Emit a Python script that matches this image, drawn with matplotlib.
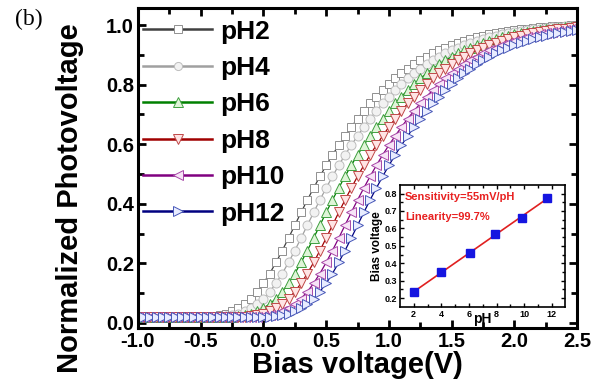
import numpy as np
import matplotlib
matplotlib.use("Agg")
import matplotlib.pyplot as plt

plt.rcParams['font.family'] = ['Liberation Sans', 'DejaVu Sans']
plt.rcParams['font.weight'] = 'bold'
plt.rcParams['axes.unicode_minus'] = False

# bias voltage grid (V), one point every 0.05 V
bias = np.round(np.linspace(-1.0, 2.5, 71), 2)

ph2 = [0.020, 0.020, 0.020, 0.020, 0.020, 0.020, 0.020, 0.020, 0.020, 0.020, 0.020, 0.020,
       0.022, 0.026, 0.031, 0.039, 0.050, 0.064, 0.082, 0.105, 0.133, 0.166, 0.203, 0.243,
       0.285, 0.328, 0.371, 0.413, 0.453, 0.492, 0.529, 0.564, 0.597, 0.628, 0.658, 0.686,
       0.712, 0.737, 0.760, 0.782, 0.802, 0.821, 0.838, 0.854, 0.869, 0.882, 0.894, 0.905,
       0.915, 0.924, 0.932, 0.940, 0.947, 0.953, 0.959, 0.964, 0.969, 0.973, 0.977, 0.980,
       0.983, 0.986, 0.988, 0.990, 0.992, 0.994, 0.996, 0.997, 0.998, 0.999, 1.000]
ph4 = [0.020, 0.020, 0.020, 0.020, 0.020, 0.020, 0.020, 0.020, 0.020, 0.020, 0.020, 0.020,
       0.020, 0.020, 0.022, 0.026, 0.031, 0.039, 0.050, 0.064, 0.082, 0.105, 0.133, 0.166,
       0.203, 0.243, 0.285, 0.328, 0.371, 0.413, 0.453, 0.492, 0.529, 0.564, 0.597, 0.628,
       0.658, 0.686, 0.712, 0.737, 0.760, 0.782, 0.802, 0.821, 0.838, 0.854, 0.869, 0.882,
       0.894, 0.905, 0.915, 0.924, 0.932, 0.940, 0.947, 0.953, 0.959, 0.964, 0.969, 0.973,
       0.977, 0.980, 0.983, 0.986, 0.988, 0.990, 0.992, 0.994, 0.996, 0.997, 0.998]
ph6 = [0.020, 0.020, 0.020, 0.020, 0.020, 0.020, 0.020, 0.020, 0.020, 0.020, 0.020, 0.020,
       0.020, 0.020, 0.020, 0.020, 0.022, 0.026, 0.031, 0.039, 0.050, 0.064, 0.082, 0.105,
       0.133, 0.166, 0.203, 0.243, 0.285, 0.328, 0.371, 0.413, 0.453, 0.492, 0.529, 0.564,
       0.597, 0.628, 0.658, 0.686, 0.712, 0.737, 0.760, 0.782, 0.802, 0.821, 0.838, 0.854,
       0.869, 0.882, 0.894, 0.905, 0.915, 0.924, 0.932, 0.940, 0.947, 0.953, 0.959, 0.964,
       0.969, 0.973, 0.977, 0.980, 0.983, 0.986, 0.988, 0.990, 0.992, 0.994, 0.996]
ph8 = [0.020, 0.020, 0.020, 0.020, 0.020, 0.020, 0.020, 0.020, 0.020, 0.020, 0.020, 0.020,
       0.020, 0.020, 0.020, 0.020, 0.020, 0.020, 0.022, 0.026, 0.031, 0.039, 0.050, 0.064,
       0.082, 0.105, 0.133, 0.166, 0.203, 0.243, 0.285, 0.328, 0.371, 0.413, 0.453, 0.492,
       0.529, 0.564, 0.597, 0.628, 0.658, 0.686, 0.712, 0.737, 0.760, 0.782, 0.802, 0.821,
       0.838, 0.854, 0.869, 0.882, 0.894, 0.905, 0.915, 0.924, 0.932, 0.940, 0.947, 0.953,
       0.959, 0.964, 0.969, 0.973, 0.977, 0.980, 0.983, 0.986, 0.988, 0.990, 0.992]
ph10 = [0.020, 0.020, 0.020, 0.020, 0.020, 0.020, 0.020, 0.020, 0.020, 0.020, 0.020, 0.020,
        0.020, 0.020, 0.020, 0.020, 0.020, 0.020, 0.020, 0.020, 0.022, 0.026, 0.031, 0.039,
        0.050, 0.064, 0.082, 0.105, 0.133, 0.166, 0.203, 0.243, 0.285, 0.328, 0.371, 0.413,
        0.453, 0.492, 0.529, 0.564, 0.597, 0.628, 0.658, 0.686, 0.712, 0.737, 0.760, 0.782,
        0.802, 0.821, 0.838, 0.854, 0.869, 0.882, 0.894, 0.905, 0.915, 0.924, 0.932, 0.940,
        0.947, 0.953, 0.959, 0.964, 0.969, 0.973, 0.977, 0.980, 0.983, 0.986, 0.988]
ph12 = [0.020, 0.020, 0.020, 0.020, 0.020, 0.020, 0.020, 0.020, 0.020, 0.020, 0.020, 0.020,
        0.020, 0.020, 0.020, 0.020, 0.020, 0.020, 0.020, 0.020, 0.020, 0.020, 0.022, 0.026,
        0.031, 0.039, 0.050, 0.064, 0.082, 0.105, 0.133, 0.166, 0.203, 0.243, 0.285, 0.328,
        0.371, 0.413, 0.453, 0.492, 0.529, 0.564, 0.597, 0.628, 0.658, 0.686, 0.712, 0.737,
        0.760, 0.782, 0.802, 0.821, 0.838, 0.854, 0.869, 0.882, 0.894, 0.905, 0.915, 0.924,
        0.932, 0.940, 0.947, 0.953, 0.959, 0.964, 0.969, 0.973, 0.977, 0.980, 0.983]

labels = ['pH2', 'pH4', 'pH6', 'pH8', 'pH10', 'pH12']
curves = [ph2, ph4, ph6, ph8, ph10, ph12]

# inset: bias voltage at half photovoltage vs pH
inset_ph = [2.0, 3.95, 6.1, 7.85, 9.85, 11.65]
inset_v = [0.235, 0.350, 0.458, 0.565, 0.660, 0.777]

styles = [
    ('#404040', 's', 'white', '#909090', 6),
    ('#a0a0a0', 'o', '#f2f2f2', '#bdbdbd', 6.5),
    ('#008000', '^', '#dff5d8', '#40a040', 7.5),
    ('#a00000', 'v', '#ffe4e4', '#c04848', 7.5),
    ('#800080', '<', '#f7e4f7', '#a848a8', 7.5),
    ('#000080', '>', '#e8ecff', '#4858b8', 7.5),
]

fig = plt.figure(figsize=(6.05, 3.85), dpi=100)
ax = fig.add_axes([0.228, 0.148, 0.726, 0.831])

for y, lab, (lc, mk, fc, ec, ms) in zip(curves, labels, styles):
    ax.plot(bias, y, color=lc, lw=0.9, marker=mk, markersize=ms,
            markerfacecolor=fc, markeredgecolor=ec, markeredgewidth=0.7,
            label=lab)

ax.set_xlim(-1.0, 2.5)
ax.set_ylim(-0.017, 1.057)
ax.set_xticks([-1.0, -0.5, 0.0, 0.5, 1.0, 1.5, 2.0, 2.5])
ax.set_xticks(np.arange(-0.75, 2.5, 0.5), minor=True)
ax.set_yticks([0.0, 0.2, 0.4, 0.6, 0.8, 1.0])
ax.set_yticks([0.1, 0.3, 0.5, 0.7, 0.9], minor=True)
ax.set_xticklabels(['-1.0', '-0.5', '0.0', '0.5', '1.0', '1.5', '2.0', '2.5'])
ax.set_yticklabels(['0.0', '0.2', '0.4', '0.6', '0.8', '1.0'])
ax.tick_params(which='both', direction='in', top=True, right=True, width=2)
ax.tick_params(which='major', length=6, labelsize=14.5)
ax.tick_params(axis='x', which='major', pad=3)
ax.tick_params(axis='y', which='major', pad=3)
ax.tick_params(which='minor', length=4)
for s in ax.spines.values():
    s.set_linewidth(2.2)

ax.set_xlabel('Bias voltage(V)', fontsize=21, fontweight='bold', labelpad=0)
ax.set_ylabel('Normalized Photovoltage', fontsize=21, fontweight='bold')
ax.yaxis.set_label_coords(-0.122, 0.405)

leg = ax.legend(loc='upper left', bbox_to_anchor=(-0.012, 0.997), frameon=False,
                numpoints=1, handlelength=2.6, handletextpad=0.3, labelspacing=0.47,
                prop={'size': 19, 'weight': 'bold'}, borderaxespad=0.0, markerscale=0.9)
for ln in leg.get_lines():
    ln.set_linewidth(1.8)

fig.text(0.025, 0.935, '(b)', fontsize=17, family='Liberation Serif', fontweight='normal')

# inset
ins = fig.add_axes([0.661, 0.203, 0.273, 0.317])
ins.plot(inset_ph, inset_v, 's', color='#1515e0', markersize=6, zorder=3)
k, b = np.polyfit(inset_ph, inset_v, 1)
ins.plot([inset_ph[0], inset_ph[-1]], [k * inset_ph[0] + b, k * inset_ph[-1] + b],
         color='#e02020', lw=1.2, zorder=2)
ins.set_xlim(1.0, 12.95)
ins.set_ylim(0.15, 0.85)
ins.set_xticks([2, 4, 6, 8, 10, 12])
ins.set_xticks([3, 5, 7, 9, 11], minor=True)
ins.set_yticks([0.2, 0.3, 0.4, 0.5, 0.6, 0.7, 0.8])
ins.set_yticks(np.arange(0.25, 0.85, 0.1), minor=True)
ins.tick_params(which='both', direction='in', top=True, right=True, width=1)
ins.tick_params(which='major', length=3, labelsize=6.5, pad=2)
ins.tick_params(which='minor', length=2)
for s in ins.spines.values():
    s.set_linewidth(1.2)
ins.set_xlabel('pH', fontsize=10, fontweight='bold', labelpad=-5)
ins.set_ylabel('Bias voltage', fontsize=8.5, fontweight='bold', labelpad=1)
ins.text(0.03, 0.90, 'Sensitivity=55mV/pH', transform=ins.transAxes, color='#e82020',
         fontsize=8, fontweight='bold', va='center')
ins.text(0.03, 0.74, 'Linearity=99.7%', transform=ins.transAxes, color='#e82020',
         fontsize=8, fontweight='bold', va='center')

fig.savefig('out.png', dpi=100)
